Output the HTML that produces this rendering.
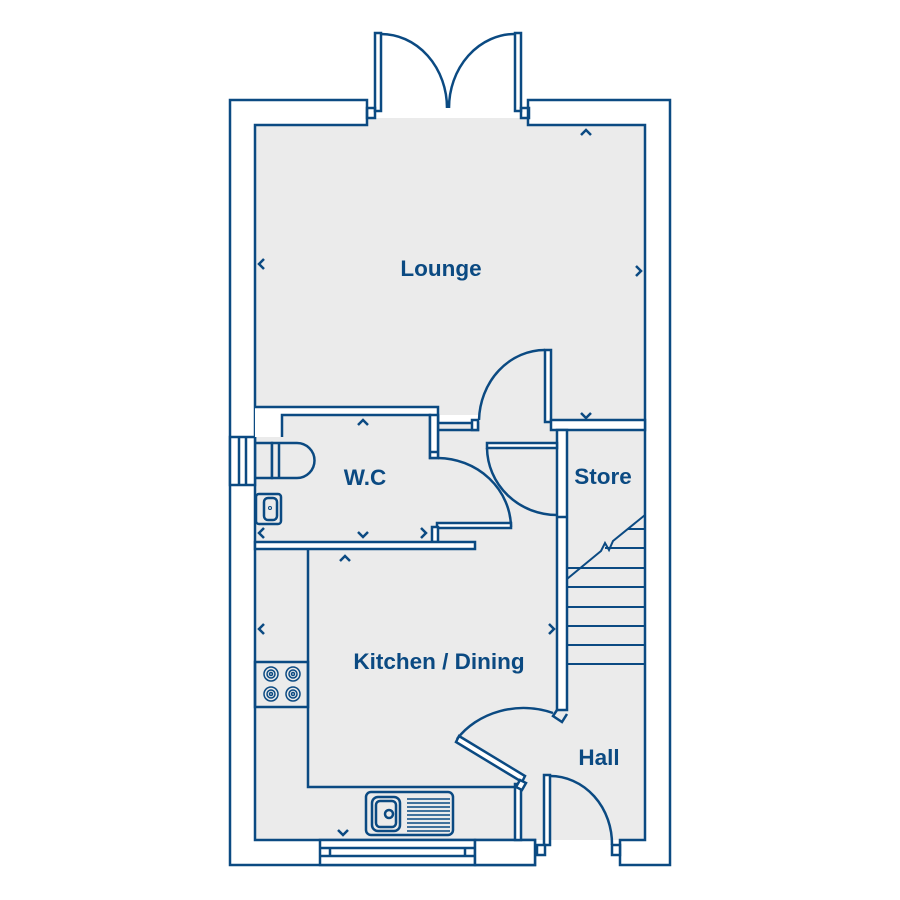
<!DOCTYPE html>
<html><head><meta charset="utf-8"><style>
html,body{margin:0;padding:0;background:#fff;}
svg{display:block}
text{font-family:"Liberation Sans",sans-serif;font-weight:bold;fill:#0b4a82;font-size:22.5px;text-anchor:middle}
</style></head><body>
<svg width="900" height="900" viewBox="0 0 900 900" xmlns="http://www.w3.org/2000/svg">
<g fill="none" stroke="#0b4a82" stroke-width="2.5">
<rect x="255" y="118" width="390" height="722" fill="#ebebeb" stroke="none"/>
<rect x="367" y="100" width="161" height="18" fill="#fff" stroke="none"/>
<path d="M367 100 H230 V865 H535 V840 H255 V125 H367 Z" fill="#fff"/>
<path d="M528 100 H670 V865 H620 V840 H645 V125 H528 Z" fill="#fff"/>
<rect x="375" y="33" width="6" height="78"/><rect x="515" y="33" width="6" height="78"/>
<rect x="367" y="108" width="8" height="10"/><rect x="521" y="108" width="8" height="10"/>
<path d="M381 34 A66 74 0 0 1 447 108"/><path d="M515 34 A66 74 0 0 0 449 108"/>
<rect x="230" y="437" width="25" height="48" fill="#fff"/>
<line x1="239" y1="437" x2="239" y2="485"/><line x1="246" y1="437" x2="246" y2="485"/>
<path d="M255 407 H438 V415 H255Z" fill="#fff" stroke="none"/>
<path d="M255 415 H282 V437 H255Z" fill="#fff" stroke="none"/>
<rect x="438" y="415" width="40" height="8" fill="#fff" stroke="none"/>
<path d="M255 407 H438 V423 H478 V430 H438"/>
<path d="M282 437 V415 H430 V458 H438 V415"/>
<rect x="430" y="415" width="8" height="43" fill="#fff"/>
<line x1="430" y1="452" x2="438" y2="452"/>
<rect x="472" y="420" width="6" height="10" fill="#fff"/>
<rect x="545" y="350" width="6" height="72" fill="#fff"/>
<path d="M545 350 A66 72 0 0 0 479 420"/>
<rect x="551" y="420" width="94" height="10" fill="#fff"/>
<rect x="557" y="430" width="10" height="280" fill="#fff"/>
<path d="M557 710 L553 716 L562 722 L567 714"/>
<line x1="557" y1="517" x2="567" y2="517"/>
<rect x="487" y="443" width="70" height="5" fill="#fff"/>
<path d="M487 448 A70 68 0 0 0 557 515"/>
<path d="M438 458 A74 70 0 0 1 511 527"/>
<rect x="437" y="523" width="74" height="5" fill="#fff"/>
<rect x="432" y="527" width="6" height="15" fill="#fff"/>
<rect x="255" y="542" width="220" height="7" fill="#fff"/>
<path d="M255 443 H272 V478 H255"/>
<path d="M272 443 H297 A17 17 0 0 1 297 478 H272 Z" fill="#ebebeb"/>
<line x1="279" y1="443" x2="279" y2="478"/>
<rect x="256" y="494" width="25" height="30" rx="3"/>
<rect x="264" y="498" width="13" height="22" rx="4"/>
<circle cx="270" cy="508" r="1.5" stroke-width="1"/>
<path d="M308 549 V787 H515"/>
<rect x="255" y="662" width="53" height="45"/>
<g stroke-width="1.5">
<circle cx="271" cy="674" r="7"/><circle cx="271" cy="674" r="4"/><circle cx="271" cy="674" r="1.5"/>
<circle cx="293" cy="674" r="7"/><circle cx="293" cy="674" r="4"/><circle cx="293" cy="674" r="1.5"/>
<circle cx="271" cy="694" r="7"/><circle cx="271" cy="694" r="4"/><circle cx="271" cy="694" r="1.5"/>
<circle cx="293" cy="694" r="7"/><circle cx="293" cy="694" r="4"/><circle cx="293" cy="694" r="1.5"/>
</g>
<rect x="366" y="792" width="87" height="43" rx="5"/>
<rect x="372" y="797" width="28" height="34" rx="6"/>
<rect x="376" y="801" width="20" height="26" rx="4"/>
<circle cx="389" cy="814" r="4"/>
<g stroke-width="1.5"><path d="M407 799H450M407 803H450M407 807H450M407 811H450M407 815H450M407 819H450M407 823H450M407 827H450M407 831H450"/></g>
<rect x="320" y="840" width="155" height="25" fill="#fff"/>
<line x1="320" y1="848" x2="475" y2="848"/><line x1="320" y1="856" x2="475" y2="856"/>
<line x1="330" y1="848" x2="330" y2="856"/><line x1="465" y1="848" x2="465" y2="856"/>
<rect x="475" y="840" width="60" height="25" fill="#fff"/>
<rect x="515" y="784" width="6" height="56" fill="#fff"/>
<path d="M459 736 L525 776 L522 782 L456 742 Z" fill="#fff"/>
<path d="M520 780 L526 783 L522 790 L516 787Z" fill="#fff"/>
<path d="M457 739 A80 70 0 0 1 553 713"/>
<rect x="544" y="775" width="6" height="70" fill="#fff"/>
<rect x="537" y="845" width="8" height="10" fill="#fff"/>
<rect x="612" y="845" width="8" height="10" fill="#fff"/>
<path d="M550 776 A62 68 0 0 1 612 845"/>
<g stroke-width="2">
<path d="M567 568H645M567 587H645M567 607H645M567 626H645M567 645H645M567 664H645"/>
<path d="M628 529H645M605 548H645"/>
<path d="M567 579 L601 551 L605 543 L609 550 L613 541 L645 515"/>
</g>
<g stroke-width="2.5">
<path d="M581 135 L586 130 L591 135"/>
<path d="M264 259 L259 264 L264 269"/>
<path d="M636 266 L641 271 L636 276"/>
<path d="M581 413 L586 418 L591 413"/>
<path d="M358 425 L363 420 L368 425"/>
<path d="M264 528 L259 533 L264 538"/>
<path d="M358 532 L363 537 L368 532"/>
<path d="M421 528 L426 533 L421 538"/>
<path d="M340 561 L345 556 L350 561"/>
<path d="M264 624 L259 629 L264 634"/>
<path d="M549 624 L554 629 L549 634"/>
<path d="M338 830 L343 835 L348 830"/>
</g>
</g>
<text x="441" y="276">Lounge</text>
<text x="365" y="485">W.C</text>
<text x="603" y="484">Store</text>
<text x="439" y="669">Kitchen / Dining</text>
<text x="599" y="765">Hall</text>
</svg>
</body></html>
